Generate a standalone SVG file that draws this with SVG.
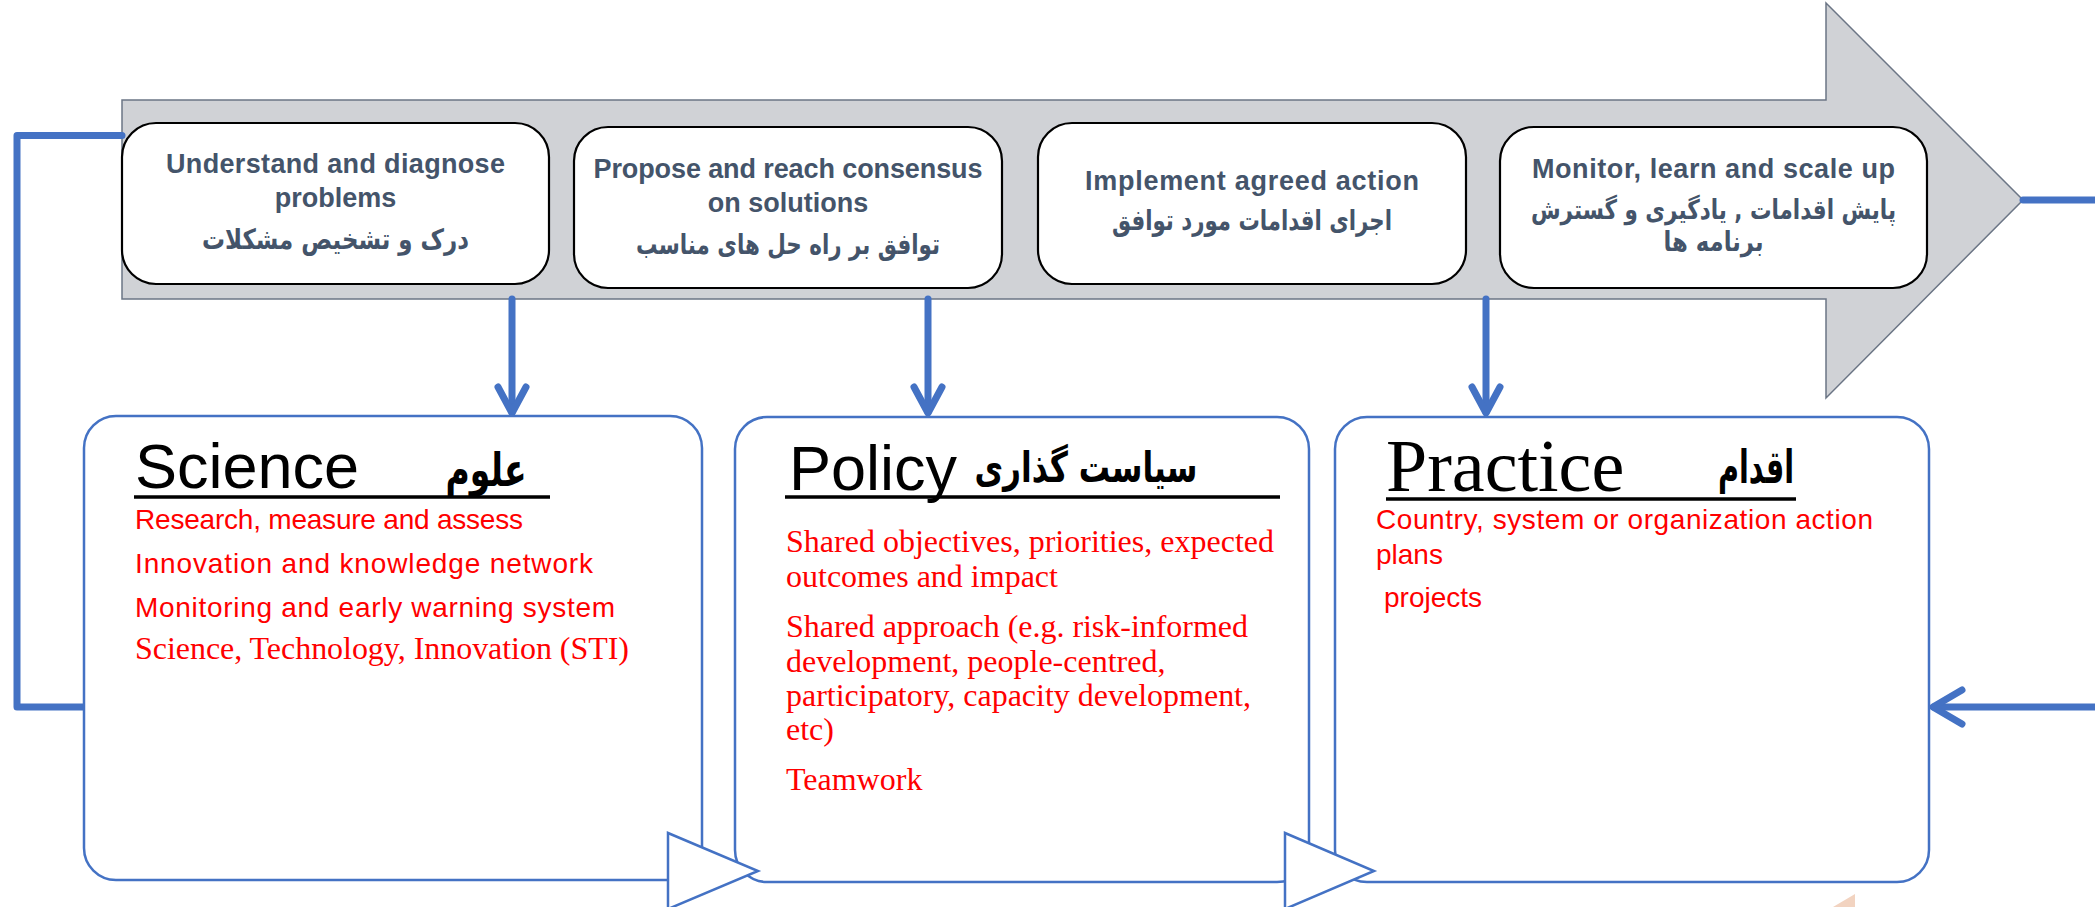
<svg xmlns="http://www.w3.org/2000/svg" width="2095" height="907" viewBox="0 0 2095 907">
<style>
.step{fill:#fff;stroke:#000;stroke-width:2.2}
.stt{font-family:"Liberation Sans",Arial,sans-serif;font-weight:bold;font-size:27px;fill:#44546A;text-anchor:middle}
.fa{font-family:"DejaVu Sans","Noto Sans",sans-serif;font-weight:bold;fill:#44546A;text-anchor:middle}
.pane{fill:#fff;stroke:#4472C4;stroke-width:2.5}
.hd{font-family:"Liberation Sans",Arial,sans-serif;font-size:63px;fill:#000}
.hds{font-family:"Liberation Serif","Times New Roman",serif;font-size:74px;fill:#000}
.hfa{font-family:"DejaVu Sans","Noto Sans",sans-serif;font-weight:bold;fill:#000;text-anchor:middle}
.ul{stroke:#000;stroke-width:3.5}
.it{font-family:"Liberation Sans",Arial,sans-serif;font-size:28px;fill:#FF0000}
.its{font-family:"Liberation Serif","Times New Roman",serif;font-size:32px;fill:#FF0000}
.con{fill:none;stroke:#4472C4;stroke-width:7;stroke-linecap:round;stroke-linejoin:round}
.tri{fill:#fff;stroke:#4472C4;stroke-width:2.5}
</style>
<g id="process-arrow">
<polygon points="122,100 1826,100 1826,3 2023,200 1826,398 1826,299 122,299" fill="#D0D2D6" stroke="#6B7585" stroke-width="1.5"/>
</g>
<g id="connectors">
<path class="con" d="M122,135.5 H17 V707 H84" stroke-linecap="butt" stroke-linejoin="miter"/>
<path class="con" d="M2023,200 H2095" stroke-linecap="butt"/>
<path class="con" d="M2095,707 H1934" stroke-linecap="butt"/>
<path class="con" d="M1962,690 L1933,707 L1962,724"/>
<path class="con" d="M512,299 V412" stroke-linecap="butt"/>
<path class="con" d="M498,387 L512,413 L526,387"/>
<path class="con" d="M928,299 V412" stroke-linecap="butt"/>
<path class="con" d="M914,387 L928,413 L942,387"/>
<path class="con" d="M1486,299 V412" stroke-linecap="butt" stroke-width="6"/>
<path class="con" d="M1472,387 L1486,413 L1500,387" stroke-width="6"/>
</g>
<g id="step-understand">
<rect class="step" x="122" y="123" width="427" height="161" rx="34"/>
<text class="stt" x="335.5" y="173" textLength="339">Understand and diagnose</text>
<text class="stt" x="335.5" y="207">problems</text>
<text class="fa" x="335.5" y="249" font-size="28" textLength="267" lengthAdjust="spacingAndGlyphs">درک و تشخیص مشکلات</text>
</g>
<g id="step-propose">
<rect class="step" x="574" y="127" width="428" height="161" rx="34"/>
<text class="stt" x="788" y="178" textLength="389">Propose and reach consensus</text>
<text class="stt" x="788" y="212">on solutions</text>
<text class="fa" x="788" y="254" font-size="28" textLength="304" lengthAdjust="spacingAndGlyphs">توافق بر راه حل های مناسب</text>
</g>
<g id="step-implement">
<rect class="step" x="1038" y="123" width="428" height="161" rx="34"/>
<text class="stt" x="1252" y="190" textLength="334">Implement agreed action</text>
<text class="fa" x="1252" y="230" font-size="28" textLength="280" lengthAdjust="spacingAndGlyphs">اجرای اقدامات مورد توافق</text>
</g>
<g id="step-monitor">
<rect class="step" x="1500" y="127" width="427" height="161" rx="34"/>
<text class="stt" x="1713.5" y="178" textLength="363">Monitor, learn and scale up</text>
<text class="fa" x="1713.5" y="219" font-size="27" textLength="365" lengthAdjust="spacingAndGlyphs">پایش اقدامات , یادگیری و گسترش</text>
<text class="fa" x="1713.5" y="251" font-size="27" textLength="100" lengthAdjust="spacingAndGlyphs">برنامه ها</text>
</g>
<g id="science">
<rect class="pane" x="84" y="416" width="618" height="464" rx="32"/>
<text class="hd" x="135" y="488">Science</text>
<text class="hfa" x="486" y="486" font-size="46" textLength="81" lengthAdjust="spacingAndGlyphs">علوم</text>
<line class="ul" x1="134" y1="497" x2="550" y2="497"/>
<text class="it" x="135" y="529" textLength="388">Research, measure and assess</text>
<text class="it" x="135" y="573" textLength="458">Innovation and knowledge network</text>
<text class="it" x="135" y="617" textLength="480">Monitoring and early warning system</text>
<text class="its" x="135" y="659" textLength="494">Science, Technology, Innovation (STI)</text>
</g>
<g id="policy">
<rect class="pane" x="735" y="417" width="574" height="465" rx="32"/>
<text class="hd" x="789" y="490">Policy</text>
<text class="hfa" x="1086" y="482" font-size="42" textLength="223" lengthAdjust="spacingAndGlyphs">سیاست گذاری</text>
<line class="ul" x1="785" y1="497" x2="1280" y2="497"/>
<text class="its" x="786" y="552" textLength="488">Shared objectives, priorities, expected</text>
<text class="its" x="786" y="587">outcomes and impact</text>
<text class="its" x="786" y="637" textLength="462">Shared approach (e.g. risk-informed</text>
<text class="its" x="786" y="672">development, people-centred,</text>
<text class="its" x="786" y="706" textLength="465">participatory, capacity development,</text>
<text class="its" x="786" y="740">etc)</text>
<text class="its" x="786" y="790">Teamwork</text>
</g>
<g id="practice">
<rect class="pane" x="1335" y="417" width="594" height="465" rx="32"/>
<text class="hds" x="1386" y="491">Practice</text>
<text class="hfa" x="1756" y="483" font-size="46" textLength="76" lengthAdjust="spacingAndGlyphs">اقدام</text>
<line class="ul" x1="1386" y1="499" x2="1796" y2="499"/>
<text class="it" x="1376" y="529" textLength="497">Country, system or organization action</text>
<text class="it" x="1376" y="564">plans</text>
<text class="it" x="1384" y="607">projects</text>
</g>
<g id="flow-triangles">
<polygon class="tri" points="668,833 758,871 668,909"/>
<polygon class="tri" points="1285,833 1374,871 1285,909"/>
</g>
<polygon points="1833,907 1855,894 1855,907" fill="#F2D3C0"/>
</svg>
